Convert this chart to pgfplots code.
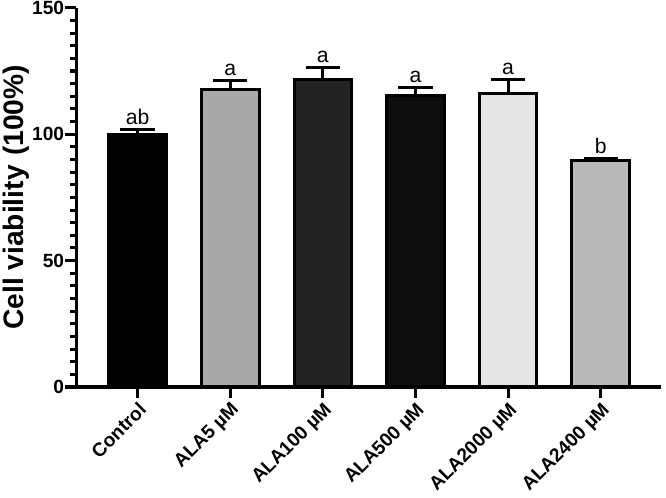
\documentclass[border=0pt]{standalone}
\usepackage{pgfplots}
\pgfplotsset{compat=1.18}
\usepackage{fontspec}
\setmainfont{Liberation Sans}
\definecolor{cA}{HTML}{A8A8A8}
\definecolor{cB}{HTML}{232323}
\definecolor{cC}{HTML}{0D0D0D}
\definecolor{cD}{HTML}{E5E5E5}
\definecolor{cE}{HTML}{B9B9B9}
\pgfplotsset{mybar/.style={bar shift=0pt, draw=black, line width=3bp,
  error bars/y dir=plus, error bars/y explicit,
  error bars/error bar style={line width=3bp, black},
  error bars/error mark options={line width=3bp, mark size=17bp, black, rotate=90}}}
\begin{document}
\begin{tikzpicture}
\begin{axis}[
  scale only axis, width=578bp, height=375bp,
  xmin=-0.66, xmax=5.65, ymin=0, ymax=150,
  axis lines*=left,
  axis line style={line width=3.5bp, -},
  xtick={0,1,2,3,4,5},
  xticklabels={Control, ALA5 µM, ALA100 µM, ALA500 µM, ALA2000 µM, ALA2400 µM},
  ytick={0,50,100,150}, minor y tick num=9,
  tick align=outside, major tick length=11bp, minor tick length=6bp,
  every tick/.style={black, line width=3bp},
  x tick label style={rotate=45, anchor=north east, font=\bfseries\fontsize{19}{19}\selectfont, inner sep=2bp},
  y tick label style={font=\bfseries\fontsize{19}{19}\selectfont, inner sep=1bp},
  /pgf/number format/assume math mode=true,
  ylabel={Cell viability\,\,(100\%)},
  ylabel style={font=\bfseries\fontsize{28}{28}\selectfont, yshift=-2bp},
  ybar, bar width=57bp,
  clip=false,
]
\addplot[mybar, fill=black] coordinates {(0,100) +- (0,2)};
\addplot[mybar, fill=cA] coordinates {(1,117.5) +- (0,3.7)};
\addplot[mybar, fill=cB] coordinates {(2,121.8) +- (0,4.7)};
\addplot[mybar, fill=cC] coordinates {(3,115.2) +- (0,3.3)};
\addplot[mybar, fill=cD] coordinates {(4,116) +- (0,5.7)};
\addplot[mybar, fill=cE] coordinates {(5,89.6) +- (0,0.8)};
\addplot[sharp plot, draw=none, mark=none, nodes near coords, point meta=explicit symbolic,
  every node near coord/.style={anchor=south, font=\fontsize{21}{21}\selectfont, inner sep=0pt, yshift=4.5bp, black}]
  coordinates {(0,102)[ab] (1,121.2)[a] (2,126.5)[a] (3,118.5)[a] (4,121.7)[a] (5,90.4)[b]};
\end{axis}
\path (current axis.east) ++(5bp,0);
\path (current axis.west) ++(-6bp,0);
\end{tikzpicture}
\end{document}
